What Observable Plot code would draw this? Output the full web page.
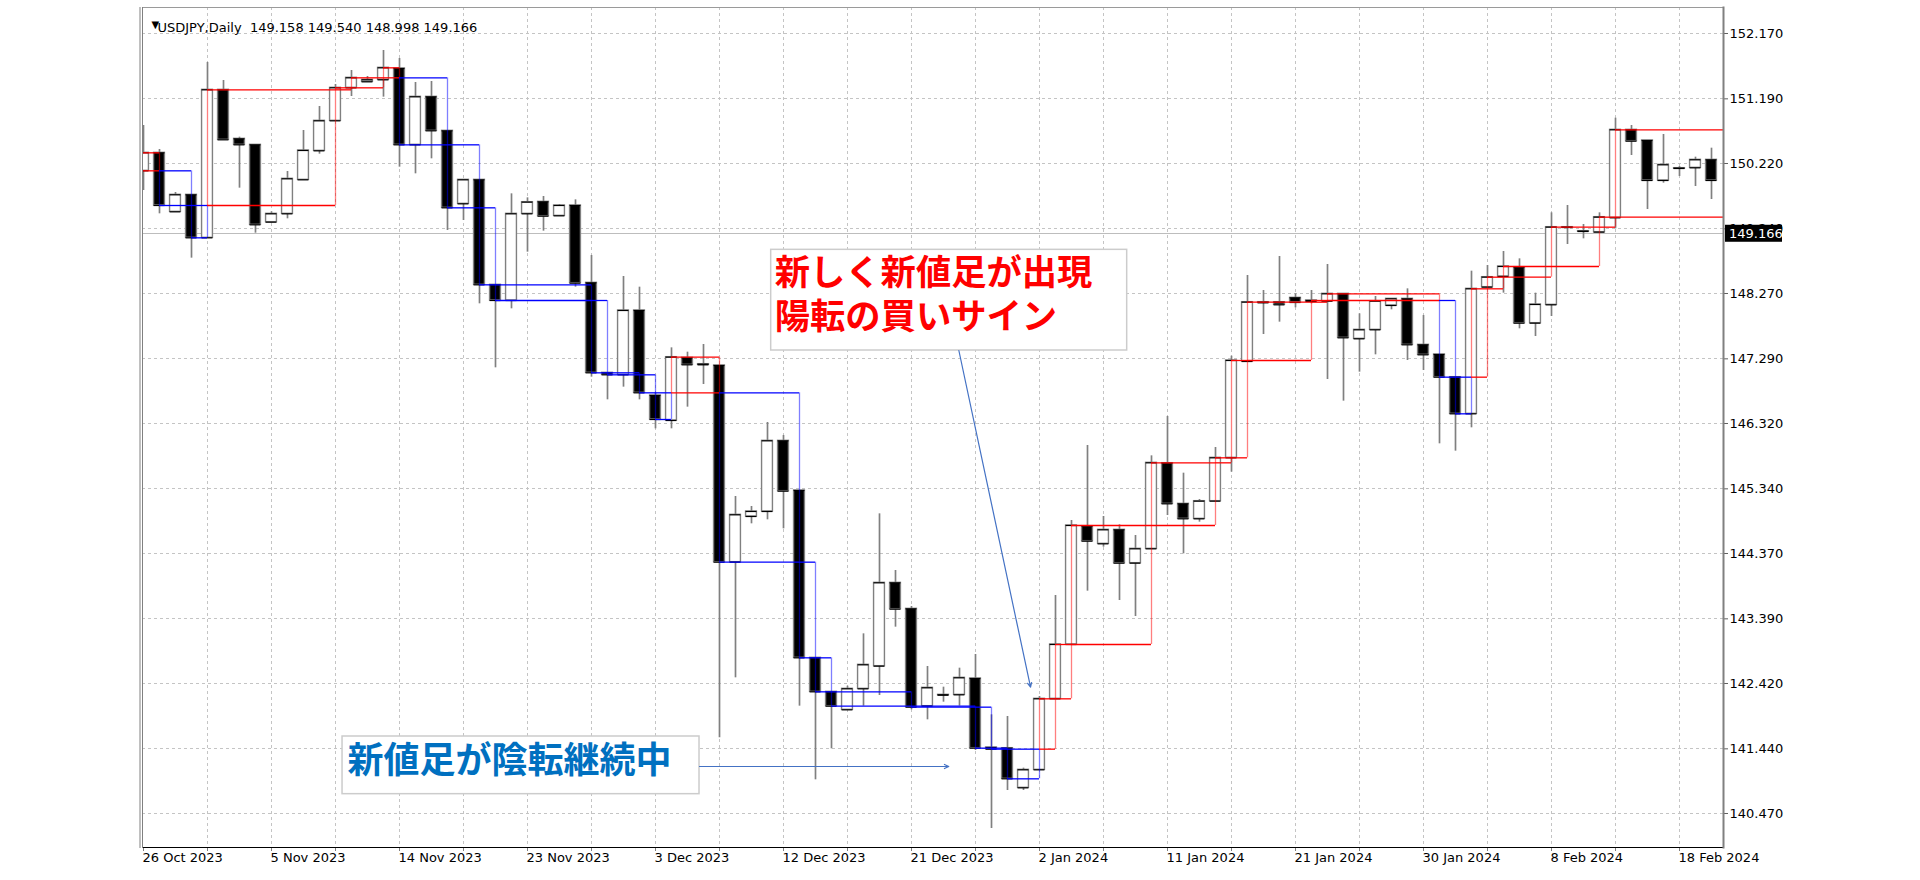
<!DOCTYPE html>
<html><head><meta charset="utf-8">
<script src="https://cdn.jsdelivr.net/npm/d3@7"></script>
<script src="https://cdn.jsdelivr.net/npm/@observablehq/plot@0.6"></script>
<style>
html,body{margin:0;padding:0;background:#fff;}
#chart{width:1920px;height:880px;}
</style></head><body><div id="chart"></div>
<script>
// ---- candle data (bar index 0..98) ----
const opens  = [150.11,150.38,149.495,149.75,149.105,151.325,150.59,150.50,149.34,149.465,149.975,150.41,150.86,151.355,151.445,151.475,151.645,150.50,151.22,150.71,149.615,149.975,148.40,148.165,149.465,149.645,149.435,149.59,148.43,147.08,147.05,148.015,146.74,146.365,147.305,147.21,147.19,144.24,144.925,145.00,146.06,145.315,142.805,142.295,142.025,142.34,142.68,143.93,143.54,142.08,142.25,142.25,142.495,141.46,141.45,140.855,141.125,142.19,143.005,144.78,144.515,144.725,144.225,144.44,145.725,145.115,144.89,145.155,145.805,147.25,148.14,148.14,148.205,148.15,148.155,148.265,147.59,147.725,148.09,148.19,147.50,147.355,147.015,146.465,148.365,148.525,148.665,147.825,148.10,149.265,149.205,149.19,149.405,150.725,150.565,149.965,150.15,150.155,150.275];
const highs  = [150.79,150.43,149.785,149.75,151.735,151.465,150.615,150.50,149.495,150.10,150.715,151.075,151.405,151.615,151.525,151.915,151.795,151.435,151.45,150.71,149.975,149.975,148.40,149.765,149.705,149.725,149.605,149.675,148.84,147.08,148.525,148.365,146.78,147.455,147.39,147.505,147.19,145.225,145.075,146.335,146.14,145.315,142.805,142.295,142.38,143.165,144.965,144.115,143.575,142.675,142.365,142.65,142.855,141.95,141.925,141.15,142.225,143.74,144.865,145.99,144.925,144.80,144.64,145.835,146.425,145.575,145.18,145.96,147.33,148.54,148.315,148.825,148.265,148.315,148.705,148.265,147.965,148.225,148.19,148.34,147.94,147.355,147.015,148.605,148.69,148.90,148.79,148.275,149.48,149.59,149.305,149.48,150.90,150.79,150.565,150.655,150.175,150.315,150.45];
const lows   = [149.815,149.465,149.495,148.80,149.10,150.575,149.85,149.175,149.33,149.39,149.975,150.36,150.86,151.225,151.435,151.215,150.165,150.065,150.29,149.215,149.365,148.115,147.155,148.04,148.89,149.205,149.435,148.365,147.015,146.675,146.865,146.675,146.24,146.24,146.565,146.905,141.605,142.505,144.815,144.875,144.74,142.08,140.975,141.44,142.025,142.08,142.24,143.265,142.025,141.875,142.14,142.08,141.415,140.245,140.815,140.815,141.125,142.19,143.005,143.805,144.465,143.665,143.425,144.44,144.94,144.365,144.84,145.155,145.59,147.25,147.655,147.84,148.055,148.115,146.98,146.655,147.09,147.35,148.025,147.265,147.115,146.015,145.905,146.255,148.35,148.275,147.74,147.625,147.925,149.005,149.09,149.19,149.24,150.34,149.53,149.925,150.025,149.875,149.68];
const closes = [150.38,149.59,149.75,149.105,151.325,150.575,150.50,149.30,149.465,149.99,150.415,150.86,151.355,151.505,151.475,151.655,150.50,151.22,150.71,149.555,149.975,148.40,148.165,149.465,149.64,149.43,149.59,148.425,147.08,147.05,148.015,146.78,146.38,147.315,147.20,147.20,144.24,144.95,145.00,146.06,145.305,142.805,142.295,142.08,142.34,142.70,143.93,143.535,142.065,142.355,142.245,142.505,141.45,141.435,140.99,141.125,142.19,143.005,144.79,144.555,144.725,144.225,144.44,145.73,145.115,144.89,145.155,145.805,147.265,148.14,148.13,148.10,148.135,148.165,148.265,147.605,147.725,148.155,148.19,147.50,147.35,147.015,146.465,148.34,148.515,148.675,147.825,148.105,149.265,149.26,149.20,149.415,150.725,150.555,149.965,150.20,150.145,150.275,149.965];

// ---- 新値足 (new-price) blocks: start bar, end bar, from price, to price ----
const boxStart = [-1,1,3,4,12,13,15,16,19,21,22,28,29,31,32,33,36,41,42,43,48,52,53,54,56,57,58,63,67,68,69,73,74,81,82,83,84,85,88,91,92];
const boxEnd   = [1,3,4,12,13,15,16,19,21,22,28,29,31,32,33,36,41,42,43,48,52,53,54,56,57,58,63,67,68,69,73,74,81,82,83,84,85,88,91,92,99];
const boxFrom  = [150.11,150.11,149.59,149.59,151.325,151.355,151.505,151.505,150.50,149.555,148.40,148.165,147.08,147.05,146.78,146.78,146.78,144.24,142.805,142.295,142.08,142.065,141.45,141.435,141.435,142.19,143.005,144.79,145.73,145.805,147.265,148.14,148.165,148.165,147.015,147.015,148.34,148.515,148.675,149.265,149.415];
const boxTo    = [150.38,149.59,149.105,151.325,151.355,151.505,151.655,150.50,149.555,148.40,148.165,147.08,147.05,146.78,146.38,147.315,144.24,142.805,142.295,142.08,142.065,141.45,141.435,140.99,142.19,143.005,144.79,145.73,145.805,147.265,148.14,148.165,148.265,147.015,146.465,148.34,148.515,148.675,149.265,149.415,150.725];

// ---- axes ----
const priceTicks = [152.17,151.19,150.22,149.24,148.27,147.29,146.32,145.34,144.37,143.39,142.42,141.44,140.47];
const dateTickBars = [0,8,16,24,32,40,48,56,64,72,80,88,96];
const dateTickLabels = ["26 Oct 2023","5 Nov 2023","14 Nov 2023","23 Nov 2023","3 Dec 2023","12 Dec 2023","21 Dec 2023","2 Jan 2024","11 Jan 2024","21 Jan 2024","30 Jan 2024","8 Feb 2024","18 Feb 2024"];
const gridBars = [4,8,12,16,20,24,28,32,36,40,44,48,52,56,60,64,68,72,76,80,84,88,92,96];
const headerText = "USDJPY,Daily\u00a0\u00a0149.158 149.540 148.998 149.166";
const lastPrice = 149.166;

// ---- annotations (anchored in bar / price units) ----
const redNoteLines = ["新しく新値足が出現", "陽転の買いサイン"];
const redNoteX = [39.45, 39.45];
const redNoteY = [148.56, 147.91];
const blueNoteText = ["新値足が陰転継続中"];
const blueNoteX = [12.75];
const blueNoteY = [141.25];
const noteBoxX1 = [39.23, 12.44], noteBoxX2 = [61.48, 34.75];
const noteBoxY1 = [148.925, 141.625], noteBoxY2 = [147.415, 140.76];
const arrowX1 = [50.96, 34.75], arrowY1 = [147.415, 141.175];
const arrowX2 = [55.44, 50.33], arrowY2 = [142.365, 141.175];

const bars = opens.map((o, i) => ({i, o, h: highs[i], l: lows[i], c: closes[i]}));
const boxes = boxStart.map((s, k) => ({s, e: boxEnd[k], a: boxFrom[k], b: boxTo[k], up: boxTo[k] > boxFrom[k]}));
const boxCol = d => d.up ? "#ff0000" : "#0000ff";
const hw = 0.34;
const noteBoxes = noteBoxX1.map((x1, k) => ({x1, x2: noteBoxX2[k], y1: noteBoxY1[k], y2: noteBoxY2[k]}));
const arrows = arrowX1.map((x1, k) => ({x1, y1: arrowY1[k], x2: arrowX2[k], y2: arrowY2[k]}));
const redNotes = redNoteLines.map((t, k) => ({t, x: redNoteX[k], y: redNoteY[k]}));
const blueNotes = blueNoteText.map((t, k) => ({t, x: blueNoteX[k], y: blueNoteY[k]}));

const grid = {stroke: "#c4c4c4", strokeDasharray: "3,3", shapeRendering: "crispEdges"};

const plot = Plot.plot({
  width: 1920, height: 880,
  marginLeft: 142, marginRight: 197, marginTop: 7, marginBottom: 33,
  x: {type: "linear", domain: [-0.0625, 98.75]},
  y: {type: "linear", domain: [139.96, 152.56]},
  color: {type: "identity"},
  style: {fontFamily: "DejaVu Sans", fontSize: "13px", background: "#fff", color: "#000", overflow: "visible"},
  marks: [
    Plot.ruleY(priceTicks, {...grid}),
    Plot.ruleX(gridBars, {...grid}),
    Plot.ruleY([lastPrice], {stroke: "#bdbdbd", shapeRendering: "crispEdges"}),
    // candles
    Plot.ruleX(bars, {x: "i", y1: "l", y2: "h", stroke: "#808080", strokeWidth: 1.7, clip: true}),
    Plot.rect(bars, {x1: d => d.i - hw, x2: d => d.i + hw, y1: "o", y2: "c", fill: d => d.c >= d.o ? "#ffffff" : "#000000", stroke: "#808080", strokeWidth: 1.4, clip: true}),
    Plot.ruleY(bars, {y: "o", x1: d => d.i - hw, x2: d => d.i + hw, stroke: "#000", strokeWidth: 1.2, clip: true}),
    Plot.ruleY(bars, {y: "c", x1: d => d.i - hw, x2: d => d.i + hw, stroke: "#000", strokeWidth: 1.2, clip: true}),
    // new-price blocks
    Plot.ruleX(boxes, {x: "s", y1: "a", y2: "b", stroke: boxCol, strokeOpacity: 0.5, strokeWidth: 1.3, clip: true}),
    Plot.ruleX(boxes, {x: "e", y1: "a", y2: "b", stroke: boxCol, strokeOpacity: 0.5, strokeWidth: 1.3, clip: true}),
    Plot.ruleY(boxes, {y: "a", x1: "s", x2: "e", stroke: boxCol, strokeWidth: 1.3, clip: true}),
    Plot.ruleY(boxes, {y: "b", x1: "s", x2: "e", stroke: boxCol, strokeWidth: 1.3, clip: true}),
    // annotations
    Plot.rect(noteBoxes, {x1: "x1", x2: "x2", y1: "y1", y2: "y2", fill: "#fff", stroke: "#cccccc", strokeWidth: 1.5}),
    Plot.text(redNotes, {x: "x", y: "y", text: "t", textAnchor: "start", fill: "#ff0000", fontSize: 35.3, fontWeight: "bold", fontFamily: "Noto Sans CJK JP"}),
    Plot.text(blueNotes, {x: "x", y: "y", text: "t", textAnchor: "start", fill: "#0070c0", fontSize: 36, fontWeight: "bold", fontFamily: "Noto Sans CJK JP"}),
    Plot.arrow(arrows, {x1: "x1", y1: "y1", x2: "x2", y2: "y2", stroke: "#4472c4", strokeWidth: 1.2, headLength: 6, headAngle: 50}),
    // axes
    Plot.axisY(priceTicks, {anchor: "right", tickSize: 4, tickPadding: 2, tickFormat: d => d.toFixed(3), label: null, stroke: "#606060"}),
    Plot.axisX(gridBars.concat([0]), {anchor: "bottom", tickSize: 4, tickFormat: () => "", label: null, stroke: "#808080"}),
    Plot.text(dateTickBars, {x: d => d, text: (d, k) => dateTickLabels[k], frameAnchor: "bottom", textAnchor: "start", dx: -1, dy: 14, fill: "#000"}),
    // frame
    Plot.frame({anchor: "top", stroke: "#9a9a9a"}),
    Plot.frame({anchor: "bottom", stroke: "#000"}),
    Plot.frame({anchor: "right", stroke: "#808080", strokeWidth: 2}),
    Plot.frame({anchor: "left", stroke: "#808080"}),
    Plot.frame({anchor: "left", stroke: "#808080", dx: -2.5}),
    // header
    Plot.text(["▼"], {frameAnchor: "top-left", dx: 9, dy: 13, fontSize: 10, fill: "#000"}),
    Plot.text([headerText], {frameAnchor: "top-left", dx: 15, dy: 15, textAnchor: "start", fill: "#000"})
  ]
});
document.getElementById("chart").appendChild(plot);

// current-price tag on the price scale
const ysc = plot.scale("y"), xsc = plot.scale("x");
const ty = ysc.apply(lastPrice), tx = xsc.range[1] + 2;
const tag = d3.select(plot).append("g").attr("text-anchor", "start");
tag.append("rect").attr("x", tx).attr("y", ty - 8.5).attr("width", 57).attr("height", 17).attr("fill", "#000");
tag.append("text").attr("x", tx + 4).attr("y", ty).attr("dy", "0.35em").attr("fill", "#fff")
  .attr("text-anchor", "start").attr("font-family", "DejaVu Sans").attr("font-size", 13).text(lastPrice.toFixed(3));
</script>
</body></html>
